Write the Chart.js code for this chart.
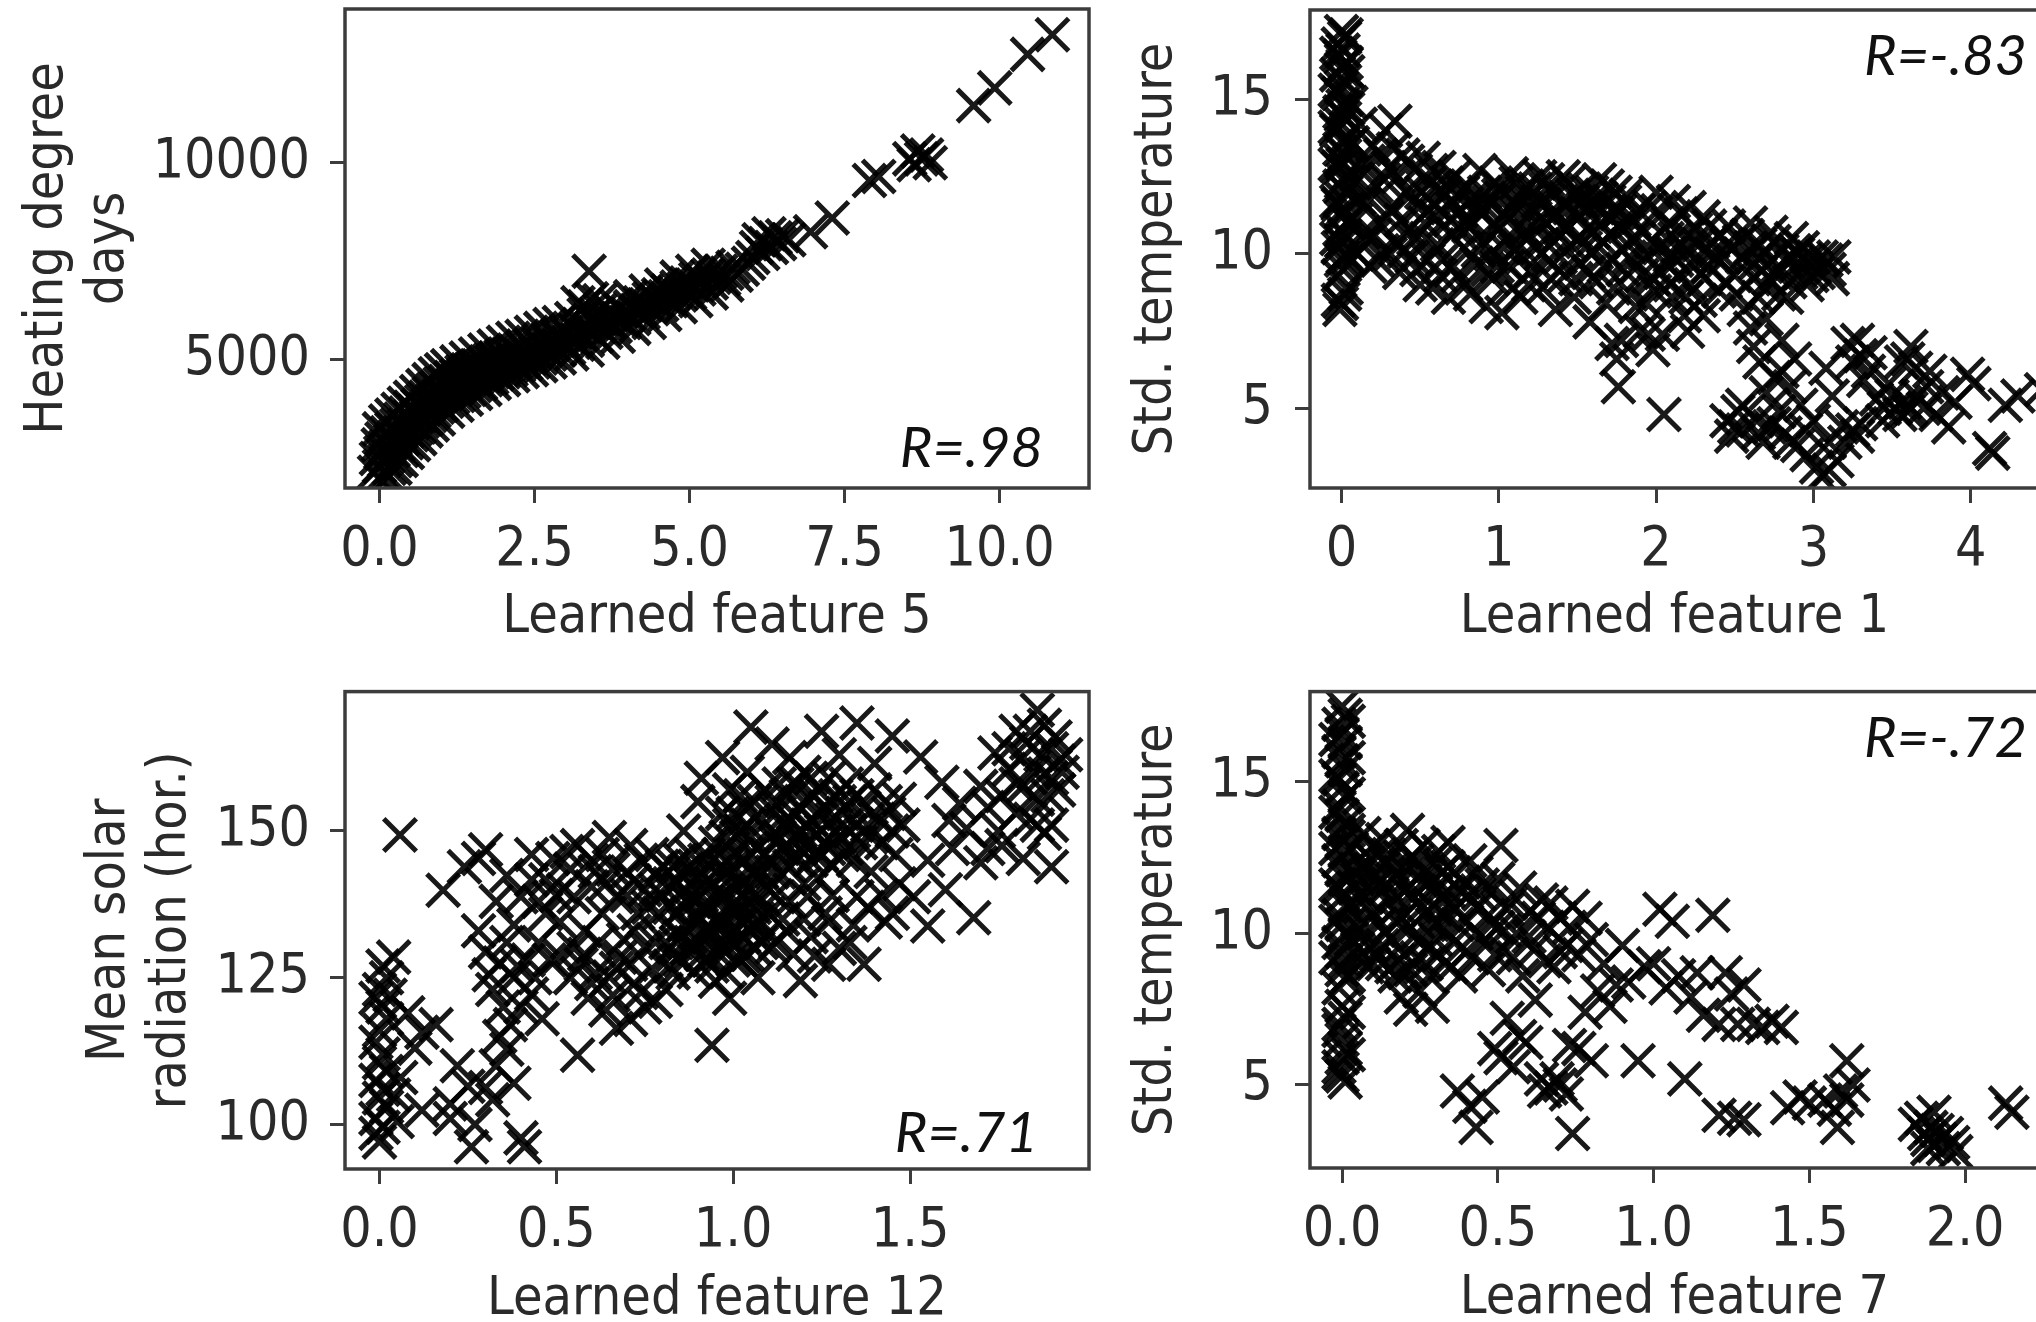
<!DOCTYPE html>
<html>
<head>
<meta charset="utf-8">
<title>Learned features</title>
<script src="https://cdn.jsdelivr.net/npm/chart.js@4.4.1/dist/chart.umd.min.js"></script>
<style>
  html, body { margin: 0; padding: 0; background: #fff; overflow: hidden; width: 2036px; height: 1322px; }
  canvas { position: absolute; }
</style>
</head>
<body>
<canvas id="graficaGrados" width="1100" height="660" style="left:0;top:0;width:1100px;height:660px"></canvas>
<canvas id="graficaStd1" width="1000" height="660" style="left:1080px;top:0;width:1000px;height:660px"></canvas>
<canvas id="graficaSolar" width="1100" height="700" style="left:0;top:660px;width:1100px;height:700px"></canvas>
<canvas id="graficaStd7" width="1000" height="700" style="left:1080px;top:660px;width:1000px;height:700px"></canvas>
<script>
// Datos: [feature, valor]
const puntosGrados = [
  [-0.08,2150],[-0.05,2500],[-0.02,2850],[0.0,2300],[0.02,2650],[0.04,3000],[0.06,2100],[0.08,2450],[0.1,2800],[0.12,3150],
  [0.14,2550],[0.16,2250],[0.18,2950],[0.2,3250],[0.22,2700],[0.24,3050],[0.26,2450],[0.28,3350],[0.3,2850],[0.32,3150],
  [0.34,3500],[0.36,2700],[0.38,3000],[0.4,3350],[0.42,3650],[0.44,2900],[0.46,3200],[0.48,3550],[0.5,3800],[0.52,3100],
  [0.54,3400],[0.56,3700],[0.58,3250],[0.6,3550],[0.62,3850],[0.64,3300],[0.66,3600],[0.68,3950],[0.7,3450],[0.72,3750],
  [0.74,4050],[0.76,3500],[0.78,3850],[0.8,4150],[0.82,3600],[0.84,3950],[0.86,4250],[0.88,3700],[0.9,4000],[0.92,4300],
  [0.94,3800],[0.96,4100],[0.98,4400],[1.0,3850],[1.03,4150],[1.06,4450],[1.09,3950],[1.12,4250],[1.15,4550],[1.18,4050],
  [1.21,4350],[1.24,4600],[1.27,4100],[1.3,4400],[1.33,4700],[1.36,4200],[1.39,4500],[1.42,4750],[1.45,4250],[1.48,4550],
  [1.51,4800],[1.54,4350],[1.57,4650],[1.6,4850],[1.63,4400],[1.66,4700],[1.69,4900],[1.72,4500],[1.75,4750],[1.78,5000],
  [1.81,4550],[1.84,4800],[1.87,5050],[1.9,4650],[1.93,4900],[1.96,5100],[2.0,4700],[2.04,4950],[2.08,5150],[2.12,4750],
  [2.16,5000],[2.2,5200],[2.24,4850],[2.28,5100],[2.32,5300],[2.36,4900],[2.4,5150],[2.44,5350],[2.48,4950],[2.52,5200],
  [2.56,5400],[2.6,5050],[2.65,5300],[2.7,5500],[2.75,5150],[2.8,5400],[2.85,5600],[2.9,5250],[2.95,5500],[3.0,5700],
  [3.05,5300],[3.1,5550],[3.15,5750],[3.2,5400],[3.25,5650],[3.3,5850],[3.3,6350],[3.38,7250],[3.42,6550],[3.48,6150],
  [3.35,5500],[3.4,5750],[3.45,5950],[3.5,5600],[3.55,5850],[3.6,6050],[3.65,5700],[3.7,5950],[3.75,6150],[3.8,5850],
  [3.85,6050],[3.9,6250],[3.95,5950],[4.0,6150],[4.05,6350],[4.1,6050],[4.15,6250],[4.2,6450],[4.25,6200],[4.3,6400],
  [4.35,6550],[4.4,6300],[4.45,6500],[4.5,6650],[4.55,6400],[4.6,6600],[4.65,6750],[4.7,6500],[4.75,6700],[4.8,6850],
  [4.85,6650],[4.9,6800],[4.95,6950],[5.0,6700],[5.05,6900],[5.1,7050],[5.15,6800],[5.2,7000],[5.3,7150],[5.35,6950],
  [5.4,7100],[5.5,7250],[5.55,7050],[5.6,7200],[5.7,7350],[5.75,7150],[5.85,7300],[5.95,7450],[6.02,7600],[6.08,7850],
  [6.12,8050],[6.18,7700],[6.22,7950],[6.28,8200],[6.32,7850],[6.38,8100],[6.45,7950],[6.5,8150],[6.6,8050],[6.95,8250],
  [7.3,8600],[7.9,9550],[8.05,9650],[8.55,10100],[8.62,9950],[8.68,10300],[8.74,10100],[8.82,10200],[8.88,10000],[9.58,11450],
  [9.92,11900],[10.45,12750],[10.85,13250],
  [0.0,3250],[0.1,3450],[0.2,3600],[0.3,3750],[0.4,3900],[0.5,4050],[0.6,4200],[0.7,4350],[0.8,4500],[0.9,4650],
  [1.0,4750],[0.05,1900],[0.15,2050],[0.25,2250],[0.35,2450],[0.45,2650],[0.55,2850],[0.65,3000],[0.75,3200],[0.85,3350],
  [0.95,3500],[1.1,4850],[1.25,4950],[1.4,5050],[1.55,5150],[1.7,5250],[1.85,5350],[2.0,5450],[2.15,5550],[2.3,5600],
  [2.45,5700],[2.6,5800],[2.75,5900],[2.9,5950],[1.1,3700],[1.25,3850],[1.4,4000],[1.55,4150],[1.7,4250],[1.85,4400],
  [2.0,4500],[2.15,4600],[2.3,4700],[2.45,4750],[2.6,4850],[2.75,4950],[2.9,5050],[3.1,6050],[3.3,6150],[3.55,6250],
  [3.8,6400],[4.05,6600],[4.3,6750],[4.55,6900],[4.8,7100],[5.05,7250],[5.3,7400],[3.1,5150],[3.35,5250],[3.6,5450],
  [3.85,5600],[4.1,5800],[4.35,5950],[4.6,6150],[4.85,6350],[5.1,6500],[5.35,6700],[5.6,6900],[3.2,6450],[3.55,6500]
];

const puntosStd1 = [
  [0.0,17.2],[0.02,17.0],[-0.02,16.8],[0.01,16.6],[-0.01,16.4],[0.03,16.2],[0.0,16.0],[-0.03,15.8],[0.02,15.6],[0.0,15.4],
  [-0.02,15.2],[0.03,15.0],[0.01,14.8],[-0.01,14.6],[0.02,14.4],[0.0,14.2],[-0.03,14.0],[0.03,13.8],[0.01,13.6],[-0.01,13.4],
  [0.02,13.2],[0.0,13.0],[-0.02,12.8],[0.04,12.6],[0.01,12.4],[-0.01,12.2],[0.03,12.0],[0.0,11.8],[-0.02,11.6],[0.02,11.4],
  [0.0,11.2],[0.04,11.0],[-0.01,10.8],[0.02,10.6],[0.0,10.4],[-0.02,10.2],[0.03,10.0],[0.0,9.8],[0.01,9.5],[0.02,8.7],
  [0.0,8.4],[-0.01,8.2],
  [0.03,17.1],[-0.03,16.5],[0.04,15.9],[-0.04,15.3],[0.04,14.7],[-0.04,14.1],[0.05,13.5],[-0.04,12.9],[0.05,12.3],[-0.03,11.7],
  [0.05,11.1],[-0.03,10.5],[0.04,9.9],[-0.02,9.3],[0.01,16.1],[0.0,14.5],[0.01,12.9],[0.0,11.4],[0.01,9.9],[0.03,8.9],[-0.02,8.5],
  [0.06,14.9],[0.07,13.6],[0.08,12.3],[0.09,11.1],[0.1,10.0],[0.12,14.2],[0.13,12.9],[0.15,11.6],[0.16,10.4],[0.18,9.6],
  [0.2,13.5],[0.22,12.2],[0.24,11.0],[0.26,10.1],[0.28,14.0],[0.3,12.8],[0.32,11.5],[0.34,14.3],[0.35,10.3],[0.37,9.4],
  [0.39,13.2],[0.41,12.0],[0.43,10.8],[0.45,9.9],[0.47,12.7],[0.49,11.5],[0.5,9.0],
  [0.11,11.8],[0.14,10.7],[0.17,13.0],[0.19,12.0],[0.21,10.6],[0.23,9.8],[0.25,13.2],[0.27,12.4],[0.29,11.2],[0.31,10.0],
  [0.33,13.4],[0.36,12.5],[0.38,11.1],[0.4,10.1],[0.42,13.0],[0.44,11.9],[0.46,10.5],[0.48,9.5],
  [0.52,13.1],[0.54,10.5],[0.56,12.3],[0.58,8.9],[0.6,11.2],[0.62,12.8],[0.64,9.8],[0.66,11.9],[0.68,8.6],[0.7,10.6],
  [0.72,12.5],[0.74,9.3],[0.76,11.4],[0.78,10.2],[0.8,12.2],[0.82,8.7],[0.84,11.0],[0.86,9.7],[0.88,12.7],[0.9,10.4],
  [0.92,8.3],[0.94,11.7],[0.96,9.2],[0.98,12.3],[1.0,10.8],[1.02,8.1],[1.04,11.3],[1.06,9.6],[1.08,12.6],[1.1,10.1],
  [1.12,11.8],[1.14,8.6],[1.16,10.7],[1.18,12.2],[1.2,9.4],[1.22,11.4],[1.24,10.2],[1.26,12.5],[1.28,8.9],[1.3,11.0],
  [1.32,9.8],[1.34,12.0],[1.36,8.2],[1.38,10.6],[1.4,11.7],[1.42,9.3],[1.44,12.3],[1.46,10.3],[1.48,8.6],[1.5,11.3],
  [1.52,9.7],[1.54,12.1],[1.56,10.8],[1.58,7.8],[1.6,11.6],[1.62,9.1],[1.64,12.4],[1.66,10.4],[1.68,8.4],[1.7,11.2],
  [1.72,9.8],[1.74,12.0],[1.76,10.9],[1.78,7.2],[1.8,11.7],[0.65,12.0],[0.85,11.5],[1.05,10.5],[1.25,11.0],[1.45,10.9],
  [1.65,11.0],[0.75,10.9],[0.95,10.0],[1.15,9.9],[1.35,10.4],[1.55,10.2],
  [0.51,12.0],[0.53,11.0],[0.55,9.8],[0.57,12.7],[0.59,11.6],[0.61,10.3],[0.63,9.3],[0.67,12.3],[0.69,11.1],[0.71,9.6],
  [0.73,11.9],[0.77,12.0],[0.79,9.0],[0.81,10.9],[0.83,11.8],[0.87,10.1],[0.89,11.3],[0.91,12.0],[0.93,9.5],[0.97,11.0],
  [0.99,9.6],[1.01,12.1],[1.03,10.2],[1.07,11.4],[1.09,8.9],[1.11,12.3],[1.13,10.3],[1.17,11.7],[1.19,9.0],[1.21,10.9],
  [1.23,12.1],[1.27,10.0],[1.29,11.6],[1.31,12.4],[1.33,9.2],[1.37,11.3],[1.39,9.9],[1.41,12.5],[1.43,10.8],[1.47,11.9],
  [1.49,9.2],[1.51,10.5],[1.53,11.7],[1.57,9.4],[1.59,12.0],[1.61,10.1],[1.63,11.5],[1.67,9.6],[1.69,12.2],[1.71,10.6],
  [1.73,8.9],[1.77,11.4],[1.79,9.5],
  [0.55,11.4],[0.6,12.2],[0.7,11.5],[0.8,11.0],[0.9,11.6],[1.0,11.9],[1.05,11.1],[1.1,11.6],[1.15,12.0],[1.2,10.6],
  [1.25,11.7],[1.3,12.1],[1.35,11.2],[1.4,10.9],[1.45,11.5],[1.5,12.0],[1.55,11.4],[1.6,10.7],[1.65,11.8],[1.7,11.7],
  [1.75,11.3],[1.8,10.9],[2.1,10.0],[2.2,10.6],[2.35,10.0],[2.45,10.3],[2.6,10.2],[2.7,9.6],[2.8,9.5],[2.9,10.0],[3.0,9.6],
  [1.82,10.3],[1.84,8.7],[1.86,11.1],[1.88,9.6],[1.9,7.5],[1.92,10.7],[1.94,8.4],[1.96,11.5],[1.98,9.2],[2.0,12.0],
  [2.02,10.2],[2.04,7.4],[2.06,9.7],[2.08,11.0],[2.1,8.6],[2.12,10.5],[2.14,9.3],[2.16,11.3],[2.18,8.0],[2.2,10.1],
  [2.22,9.0],[2.25,10.8],[2.28,8.5],[2.3,11.2],[2.33,9.6],[2.36,10.4],[2.4,8.8],[2.43,9.9],[2.46,10.9],[2.5,9.3],
  [2.53,10.4],[2.56,8.2],[2.6,11.0],[2.63,9.7],[2.66,10.3],[2.7,8.9],[2.73,10.7],[2.76,9.4],[2.8,10.1],[2.83,8.6],
  [2.86,10.5],[2.9,9.7],[2.93,10.2],[2.96,9.0],[3.0,9.9],[3.03,9.4],[3.08,9.8],[3.12,9.2],
  [1.81,11.9],[1.83,9.9],[1.85,10.5],[1.87,8.3],[1.89,11.4],[1.91,9.3],[1.93,10.0],[1.97,10.4],[1.99,8.8],[2.01,11.4],
  [2.03,9.4],[2.07,10.5],[2.09,9.0],[2.11,11.7],[2.13,9.8],[2.17,10.2],[2.19,8.6],[2.21,11.5],[2.24,9.6],[2.27,10.3],
  [2.31,9.2],[2.34,10.9],[2.38,9.9],[2.41,10.6],[2.44,9.1],[2.48,10.2],[2.51,8.7],[2.55,9.9],[2.58,10.6],[2.62,9.2],
  [2.65,8.6],[2.68,10.0],[2.72,9.2],[2.75,10.4],[2.78,8.7],[2.82,9.8],[2.85,9.1],[2.88,10.1],[2.92,9.4],[2.95,9.8],
  [2.99,9.3],[3.05,9.9],[3.1,9.5],[3.13,9.9],
  [1.72,7.1],[1.75,6.6],[1.76,5.7],[1.95,7.4],[1.98,6.9],[2.05,4.8],[2.2,7.5],[2.3,8.0],[2.45,4.6],[2.48,4.1],
  [2.52,4.9],[2.55,4.3],[2.6,7.6],[2.62,7.0],[2.64,4.6],[2.66,6.5],[2.68,3.9],[2.7,7.9],[2.72,4.4],[2.75,6.0],
  [2.78,4.9],[2.8,7.2],[2.82,4.2],[2.85,5.7],[2.88,6.6],[2.9,3.8],[2.92,5.1],[2.96,3.5],[3.0,4.6],[3.02,3.1],
  [3.05,2.8],[3.08,6.3],[3.1,3.9],[3.12,5.4],[3.18,4.4],[3.22,7.1],[3.25,6.5],[3.28,4.1],[3.32,5.9],[3.36,6.8],
  [3.4,5.3],[3.44,4.6],[3.48,5.8],[3.52,5.0],[3.56,6.5],[3.6,4.9],[3.62,7.0],[3.66,5.4],[3.7,5.0],[3.74,6.2],
  [3.78,4.8],[3.82,5.5],[3.86,4.4],[3.9,5.2],[3.98,6.1],[4.02,5.8],[4.12,3.7],[4.14,3.55],[4.22,5.1],[4.3,5.4],
  [4.45,5.6],
  [3.45,5.0],[3.5,5.4],[3.55,4.8],[3.58,5.2],[3.62,5.0],[3.3,6.7],[3.35,6.2],[3.28,7.2],[3.6,6.6],[3.65,6.3],
  [3.72,5.7],[3.25,4.3],[3.3,4.5],[3.2,3.9],[3.15,3.3],[3.1,3.0],[2.95,4.3],[2.85,3.9],[2.75,4.5],[2.65,4.2],
  [2.5,4.4],[2.55,5.1],[2.7,5.5],[2.8,6.2]
];

const puntosSolar = [
  [0.0,97],[0.01,99.5],[-0.01,101],[0.02,103],[0.0,104.5],[0.01,106],[-0.01,107.5],[0.02,109],[0.0,110.5],[0.01,112],
  [-0.01,114],[0.0,116],[0.02,118],[0.01,120],[-0.01,121.5],[0.0,123],[0.02,125],[0.01,127],[0.04,128.5],[0.03,122],
  [0.04,105],[0.05,100.5],[-0.01,98.5],
  [0.058,149.3],[0.18,139.9],[0.12,102.4],[0.2,101],[0.26,96.2],[0.22,110],[0.16,117],[0.12,115.7],[0.2,103.5],[0.32,104.2],
  [0.3,106.3],[0.4,97.7],[0.41,96.2],[0.38,107],[0.36,112.8],[0.34,115],[0.4,120],[0.43,122.2],[0.32,123],[0.3,129.4],
  [0.28,133],[0.24,143.9],[0.28,145.3],[0.3,146.8],[0.36,142.4],[0.4,138.8],[0.47,135.9],[0.43,146],[0.49,145.3],[0.43,141.7],
  [0.08,119],[0.1,113],[0.06,108],[0.25,106.5],[0.27,100],[0.31,125.5],[0.34,127.5],[0.36,131],[0.38,125],[0.42,128],[0.45,131],
  [0.35,120],[0.37,117],[0.33,110],[0.39,127],[0.44,125],[0.46,118],[0.48,128],[0.45,138],[0.38,134],[0.33,138],
  [0.51,128.7],[0.55,130],[0.57,127.3],[0.61,125.8],[0.65,125.1],[0.67,126.6],[0.71,127.3],[0.63,135.9],[0.67,138.8],[0.61,143.1],
  [0.65,148.9],[0.71,147.5],[0.77,146],[0.63,146],[0.55,138.8],[0.51,134.5],[0.71,117.9],[0.67,116.4],[0.75,120],[0.81,123],
  [0.83,125.8],[0.75,130.2],[0.47,141.7],[0.56,111.8],[0.53,146.5],[0.58,133],[0.6,140.5],[0.69,131.5],[0.73,136],[0.78,140],
  [0.7,143],[0.59,121.5],[0.64,119.5],[0.77,126.5],[0.74,122.5],
  [0.52,140],[0.54,143.5],[0.56,147.5],[0.58,129],[0.6,145],[0.62,131],[0.64,141],[0.66,143.5],[0.68,128.5],[0.7,139],
  [0.72,133],[0.74,145],[0.76,137],[0.78,131],[0.6,124],[0.66,122],[0.72,124],[0.78,121],[0.54,125],[0.5,139],
  [0.72,141.5],[0.75,140],[0.78,142.5],[0.8,139],[0.82,141],
  [0.83,144],[0.84,136],[0.85,132],[0.86,140],[0.87,143.5],[0.88,134],[0.89,138],[0.9,131],[0.91,142],[0.92,145],
  [0.93,137],[0.94,141],[0.95,148],[0.96,134],[0.97,144],[0.98,139],[0.99,151],[1.0,136],[1.01,146],[1.02,141],
  [1.03,154],[1.04,138],[1.05,149],[1.06,143],[1.07,135],[1.08,152],[1.09,146],[1.1,140],[1.11,155],[1.12,148],
  [0.95,132.5],[1.0,131],[1.05,133],[0.97,153],[1.02,150],
  [0.79,136],[0.8,144],[0.81,131],[0.82,137],[0.83,129],[0.84,141],[0.85,145],[0.86,134],[0.87,138],[0.88,146],
  [0.89,130],[0.9,135],[0.91,139],[0.92,133],[0.93,128],[0.94,145],[0.95,138],[0.96,129],[0.97,135],[0.98,143],
  [0.99,133],[1.0,141],[1.0,146],[1.01,138],[1.02,156],[1.03,132],[1.03,145],[1.04,151],[1.05,140],[1.06,155],
  [1.06,137],[1.07,147],[1.08,143],[1.08,134],[1.09,157],[1.1,150],[1.1,136],[1.11,143],[1.12,153],[1.12,139],
  [1.13,158],[1.14,147],[1.14,135],[1.15,151],[0.98,149],[1.0,153],[0.96,146],[1.04,160],[0.99,157],
  [0.82,127],[0.84,131],[0.85,128],[0.86,143],[0.87,130],[0.88,139],[0.89,126],[0.9,142],[0.91,129],[0.92,137],
  [0.93,132],[0.94,127],[0.95,135],[0.96,140],[0.97,130],[0.98,126],[0.99,137],[1.0,128],[1.01,133],[1.02,136],
  [1.03,141],[1.04,129],[1.05,146],[1.06,134],[1.07,139],[1.08,131],[0.88,131],[0.91,135],[0.94,133],[0.97,139],
  [1.0,144],[0.86,137],[0.89,144],[0.92,128],[0.95,143],[0.98,132],[1.01,149],[1.04,135],[1.07,142],[1.1,145],
  [1.13,149],[1.16,152],[1.19,147],[1.22,150],[1.25,146],
  [1.13,143],[1.14,151],[1.15,156],[1.16,147],[1.17,153],[1.18,145],[1.19,150],[1.2,155],[1.21,148],[1.22,152],
  [1.23,146],[1.24,157],[1.25,150],[1.26,154],[1.27,147],[1.28,152],[1.29,156],[1.3,149],[1.31,153],[1.32,147],
  [1.18,158],[1.22,159],
  [1.16,144],[1.17,158],[1.18,149],[1.19,154],[1.2,141],[1.2,160],[1.21,151],[1.22,145],[1.23,156],[1.24,142],
  [1.25,153],[1.26,148],[1.27,159],[1.28,144],[1.29,150],[1.3,155],[1.31,146],[1.32,158],[1.33,150],[1.34,145],
  [1.35,156],[1.36,148],[1.38,151],[1.4,157],[1.42,148],[1.44,153],[1.46,146],[1.48,151],
  [1.33,155],[1.35,151],[1.37,154],[1.39,149],[1.41,152],[1.43,155],[1.45,150],
  [1.02,128],[1.06,130],[1.12,131],[1.17,129],[1.22,132],[1.26,136],[1.3,130],[1.34,134],[1.38,137],[1.42,139],
  [1.45,136],[1.2,135],[1.28,139],[1.16,138],
  [1.05,167.7],[1.25,167],[1.35,168.4],[1.45,166.2],[0.91,159],[1.11,164.8],[1.53,162.6],[1.59,158.3],[1.47,155.4],[0.97,162.5],
  [1.16,162.5],[1.3,163],[1.4,161.5],[0.86,150],[0.9,155],[0.94,113.5],[0.95,124.4],[0.99,121.5],[1.03,128.7],[1.11,130.2],
  [1.23,128.7],[1.27,127.3],[1.37,127.3],[1.55,133.8],[1.43,134.5],[1.51,138.8],[1.27,134.5],[1.35,138.8],[1.39,143.1],[1.21,138.8],
  [1.15,133],[1.07,125],[1.19,124.5],[1.33,131],[1.47,141],[1.55,145],[1.6,140],[1.62,147],
  [1.68,135.2],[1.7,144.6],[1.76,147.5],[1.82,145.3],[1.9,143.9],[1.9,151],[1.88,149.6],[1.86,170.6],[1.8,167],[1.74,163.3],
  [1.82,162.6],[1.9,164],[1.92,161.9],[1.88,159.7],[1.78,160.5],[1.7,157.6],[1.64,154.7],[1.66,150.4],[1.61,151.8],[1.72,154],
  [1.82,157.6],[1.9,159],[1.86,155.4],[1.94,163],[1.92,157],[1.84,152],[1.76,156],
  [1.78,164],[1.8,158],[1.83,165],[1.85,160],[1.87,163],[1.89,156],[1.91,166],[1.93,160],[1.84,167],[1.88,168],
  [1.8,153],[1.86,151],[1.75,150],[1.72,147]
];

const puntosStd7 = [
  [0.0,17.5],[0.01,17.2],[-0.01,16.9],[0.0,16.6],[0.01,16.3],[-0.01,16.0],[0.0,15.7],[0.01,15.4],[-0.01,15.1],[0.0,14.8],
  [0.01,14.5],[-0.01,14.2],[0.0,13.9],[0.01,13.6],[-0.01,13.3],[0.0,13.0],[0.01,12.7],[-0.01,12.4],[0.0,12.1],[0.01,11.8],
  [-0.01,11.5],[0.0,11.2],[0.01,10.9],[-0.01,10.6],[0.0,10.3],[0.01,10.0],[-0.01,9.7],[0.0,9.4],[0.01,9.1],[0.0,8.8],
  [0.01,8.5],[-0.01,8.2],[0.0,7.6],[0.01,7.2],[-0.01,6.8],[0.0,6.5],[0.01,6.2],[0.0,5.9],[-0.01,5.6],[0.0,5.3],[0.01,5.1],
  [0.02,17.0],[-0.02,16.4],[0.02,15.8],[-0.02,15.2],[0.02,14.6],[-0.02,14.0],[0.02,13.4],[-0.02,12.8],[0.03,12.2],[-0.02,11.6],
  [0.03,11.0],[-0.02,10.4],[0.03,9.8],[-0.02,9.2],[0.02,8.6],[0.02,7.4],[-0.01,7.0],[0.02,6.0],[-0.01,5.4],
  [0.03,12.8],[0.04,11.5],[0.05,10.2],[0.06,9.2],[0.07,12.2],[0.08,10.9],[0.09,9.6],[0.1,12.9],[0.11,11.6],[0.12,10.3],
  [0.13,9.0],[0.14,12.3],[0.15,11.0],[0.16,9.8],[0.17,8.6],[0.18,11.8],[0.19,10.5],[0.2,9.3],[0.21,13.4],[0.22,12.5],
  [0.23,11.2],[0.24,10.0],[0.25,8.1],[0.26,12.0],[0.27,10.7],[0.28,9.5],[0.29,7.6],[0.3,11.5],[0.31,12.7],[0.32,10.2],
  [0.33,9.0],[0.34,12.2],[0.35,11.0],[0.36,9.7],[0.38,8.6],[0.39,11.7],[0.4,10.4],[0.42,9.2],[0.43,12.0],[0.44,10.9],
  [0.46,9.8],[0.47,8.8],[0.48,11.4],[0.5,10.2],[0.51,12.9],[0.52,9.4],[0.54,11.0],[0.56,10.0],[0.58,8.6],[0.6,10.7],
  [0.62,9.5],[0.64,11.1],[0.66,10.2],[0.68,8.9],[0.7,10.5],[0.72,9.6],[0.74,10.9],[0.19,7.9],[0.22,7.5],
  [0.02,13.2],[0.03,10.8],[0.04,12.0],[0.05,9.5],[0.06,11.3],[0.07,13.3],[0.08,8.9],[0.09,12.5],[0.1,10.6],[0.11,9.3],
  [0.12,11.9],[0.13,13.1],[0.14,10.0],[0.15,12.6],[0.16,11.3],[0.17,10.4],[0.18,9.1],[0.19,12.9],[0.2,11.4],[0.21,10.1],
  [0.22,8.8],[0.23,12.1],[0.24,11.0],[0.25,9.7],[0.26,12.9],[0.27,11.6],[0.28,8.6],[0.29,10.3],[0.3,12.3],[0.31,9.3],
  [0.32,11.2],[0.33,10.6],[0.34,13.0],[0.35,8.9],[0.36,12.0],[0.37,10.3],[0.38,11.4],[0.4,9.4],[0.41,12.4],[0.43,10.0],
  [0.45,11.6],[0.47,10.6],[0.49,9.3],[0.5,11.8],[0.53,10.8],[0.55,9.2],[0.57,11.5],[0.6,9.9],[0.63,10.5],[0.65,9.1],
  [0.67,11.0],[0.7,9.4],[0.73,10.2],[0.76,9.3],[0.78,10.5],[0.8,9.8],
  [0.05,11.8],[0.08,11.2],[0.1,11.9],[0.12,12.6],[0.14,11.6],[0.16,12.1],[0.18,10.9],[0.2,12.2],[0.22,11.6],[0.24,12.4],
  [0.26,10.9],[0.28,11.9],[0.3,10.8],[0.32,12.0],[0.34,11.4],[0.36,10.8],[0.4,11.2],[0.44,11.3],[0.48,10.3],[0.52,10.1],
  [0.07,10.0],[0.1,9.0],[0.13,9.6],[0.16,8.9],[0.2,8.7],[0.24,9.2],[0.27,9.0],[0.3,9.8],
  [0.37,4.8],[0.41,4.3],[0.43,3.6],[0.45,4.6],[0.49,6.2],[0.51,5.9],[0.53,7.2],[0.55,5.6],[0.57,6.6],[0.59,6.4],
  [0.62,7.8],[0.64,5.2],[0.65,4.8],[0.67,4.9],[0.69,5.2],[0.7,5.0],[0.72,4.7],[0.74,3.4],[0.73,6.3],[0.76,6.2],
  [0.78,7.4],[0.8,5.8],[0.82,8.1],[0.84,9.0],[0.86,7.6],[0.88,8.3],[0.9,9.6],[0.92,8.4],[0.95,5.8],[0.97,8.9],
  [1.0,9.0],[1.02,10.8],[1.04,8.2],[1.06,10.4],[1.08,8.6],[1.1,5.2],[1.12,7.9],[1.14,8.7],[1.16,7.3],[1.19,10.6],
  [1.21,7.0],[1.23,8.7],[1.25,8.0],[1.27,7.0],[1.29,8.3],[1.32,7.0],[1.35,6.9],[1.38,7.1],[1.41,6.9],[1.21,4.0],
  [1.26,3.9],[1.29,3.85],[1.43,4.25],[1.47,4.6],[1.5,4.4],[1.55,4.5],[1.58,4.2],[1.59,3.6],[1.62,5.8],[1.62,4.5],
  [1.64,5.0],[1.6,4.8],
  [1.84,3.7],[1.86,3.9],[1.87,3.4],[1.88,3.2],[1.89,3.6],[1.9,4.1],[1.9,3.0],[1.91,3.5],[1.92,3.2],[1.93,2.9],
  [1.94,3.4],[1.96,3.1],[1.97,2.8],[1.88,2.9],[2.13,4.4],[2.15,4.1]
];

// Marcas de los ejes
const ticksGradosX = [0, 2.5, 5, 7.5, 10];
const etiquetasGradosX = ['0.0', '2.5', '5.0', '7.5', '10.0'];
const ticksGradosY = [5000, 10000];
const etiquetasGradosY = ['5000', '10000'];
const ticksStd1X = [0, 1, 2, 3, 4];
const etiquetasStd1X = ['0', '1', '2', '3', '4'];
const ticksStdY = [5, 10, 15];
const etiquetasStdY = ['5', '10', '15'];
const ticksSolarX = [0, 0.5, 1, 1.5];
const etiquetasSolarX = ['0.0', '0.5', '1.0', '1.5'];
const ticksSolarY = [100, 125, 150];
const etiquetasSolarY = ['100', '125', '150'];
const ticksStd7X = [0, 0.5, 1, 1.5, 2];
const etiquetasStd7X = ['0.0', '0.5', '1.0', '1.5', '2.0'];

const familia = "'DejaVu Sans Condensed', 'DejaVu Sans', sans-serif";
const fuenteTicks = { family: familia, size: 55 };
const fuenteTitulo = { family: familia, size: 53.5, lineHeight: 1.13 };
const colorTexto = '#2a2a2a';
const colorMarco = '#3c3c3c';

// Marco completo alrededor del área de datos
const pluginMarco = {
    id: 'marco',
    afterDraw(chart) {
        const { ctx, chartArea: a } = chart;
        ctx.save();
        ctx.strokeStyle = colorMarco;
        ctx.lineWidth = 3.5;
        ctx.strokeRect(a.left, a.top, a.right - a.left, a.bottom - a.top);
        ctx.restore();
    }
};

// Texto del coeficiente R dentro del área
const pluginR = {
    id: 'textoR',
    afterDraw(chart, args, o) {
        const { ctx, chartArea: a } = chart;
        const x = o.desdeIzq != null ? a.left + o.desdeIzq : a.right - o.desdeDer;
        const y = o.desdeArriba != null ? a.top + o.desdeArriba : a.bottom - o.desdeAbajo;
        ctx.save();
        ctx.font = 'italic 56px Lato, sans-serif';
        ctx.fillStyle = '#111';
        ctx.textAlign = 'right';
        ctx.textBaseline = 'alphabetic';
        ctx.fillText(o.texto, x, y);
        ctx.restore();
    }
};

function prepararEje(eje, esX) {
    return {
        type: 'linear',
        min: eje.min,
        max: eje.max,
        afterFit: (s) => {
            // tamaño fijo del eje y sin márgenes extra por las etiquetas
            if (esX) { s.height = eje.tam; s.paddingLeft = 0; s.paddingRight = 0; }
            else { s.width = eje.tam; s.paddingTop = 0; s.paddingBottom = 0; }
        },
        afterBuildTicks: (s) => { s.ticks = eje.ticks.map((v) => ({ value: v })); },
        ticks: {
            font: fuenteTicks,
            color: colorTexto,
            padding: eje.pad,
            autoSkip: false,
            maxRotation: 0,
            callback: (v) => eje.etiquetas[eje.ticks.indexOf(v)]
        },
        grid: { display: true, drawOnChartArea: false, drawTicks: true, tickLength: 15, tickWidth: 3, tickColor: colorMarco },
        border: { display: false },
        title: { display: true, text: eje.titulo, font: fuenteTitulo, color: colorTexto, padding: eje.padTitulo }
    };
}

function crearGrafica(id, puntos, cfg) {
    return new Chart(document.getElementById(id), {
        type: 'scatter',
        data: {
            datasets: [{
                data: puntos.map((p) => ({ x: p[0], y: p[1] })),
                pointStyle: 'crossRot',
                pointRadius: 23,
                pointBorderWidth: 5,
                pointBorderColor: 'rgba(0,0,0,0.9)',
                pointBackgroundColor: 'rgba(0,0,0,0)'
            }]
        },
        options: {
            responsive: false,
            animation: false,
            devicePixelRatio: 1,
            events: [],
            layout: { padding: cfg.padding, autoPadding: false },
            plugins: { legend: { display: false }, tooltip: { enabled: false }, textoR: cfg.r },
            scales: { x: prepararEje(cfg.x, true), y: prepararEje(cfg.y, false) }
        },
        plugins: [pluginMarco, pluginR]
    });
}

crearGrafica('graficaGrados', puntosGrados, {
    padding: { top: 9, right: 11, left: 0, bottom: 0 },
    r: { texto: 'R=.98', desdeDer: 46, desdeAbajo: 21 },
    x: { min: -0.556, max: 11.44, tam: 172, pad: 15, ticks: ticksGradosX, etiquetas: etiquetasGradosX,
         titulo: 'Learned feature 5', padTitulo: { top: 0, bottom: 11.5 } },
    y: { min: 1751, max: 13901, tam: 345, pad: 20, ticks: ticksGradosY, etiquetas: etiquetasGradosY,
         titulo: ['Heating degree', 'days'], padTitulo: { top: 18, bottom: 0 } }
});

// La columna derecha queda cortada por el borde de la imagen
crearGrafica('graficaStd1', puntosStd1, {
    padding: { top: 10, right: 41, left: 0, bottom: 0 },
    r: { texto: 'R=-.83', desdeIzq: 717, desdeArriba: 64.5 },
    x: { min: -0.2, max: 4.434, tam: 172, pad: 15, ticks: ticksStd1X, etiquetas: etiquetasStd1X,
         titulo: 'Learned feature 1', padTitulo: { top: 0, bottom: 11.5 } },
    y: { min: 2.42, max: 17.9, tam: 230, pad: 22, ticks: ticksStdY, etiquetas: etiquetasStdY,
         titulo: 'Std. temperature', padTitulo: { top: 47, bottom: 0 } }
});

crearGrafica('graficaSolar', puntosSolar, {
    padding: { top: 31.6, right: 11, left: 0, bottom: 0 },
    r: { texto: 'R=.71', desdeDer: 51, desdeAbajo: 17 },
    x: { min: -0.0975, max: 2.006, tam: 191, pad: 15, ticks: ticksSolarX, etiquetas: etiquetasSolarX,
         titulo: 'Learned feature 12', padTitulo: { top: 0, bottom: 29.5 } },
    y: { min: 92.4, max: 173.75, tam: 345, pad: 20, ticks: ticksSolarY, etiquetas: etiquetasSolarY,
         titulo: ['Mean solar', 'radiation (hor.)'], padTitulo: { top: 80, bottom: 0 } }
});

crearGrafica('graficaStd7', puntosStd7, {
    padding: { top: 31.6, right: 41, left: 0, bottom: 0 },
    r: { texto: 'R=-.72', desdeIzq: 717, desdeArriba: 65.4 },
    x: { min: -0.103, max: 2.237, tam: 192, pad: 15, ticks: ticksStd7X, etiquetas: etiquetasStd7X,
         titulo: 'Learned feature 7', padTitulo: { top: 0, bottom: 30.5 } },
    y: { min: 2.26, max: 17.98, tam: 230, pad: 22, ticks: ticksStdY, etiquetas: etiquetasStdY,
         titulo: 'Std. temperature', padTitulo: { top: 47, bottom: 0 } }
});
</script>
</body>
</html>
